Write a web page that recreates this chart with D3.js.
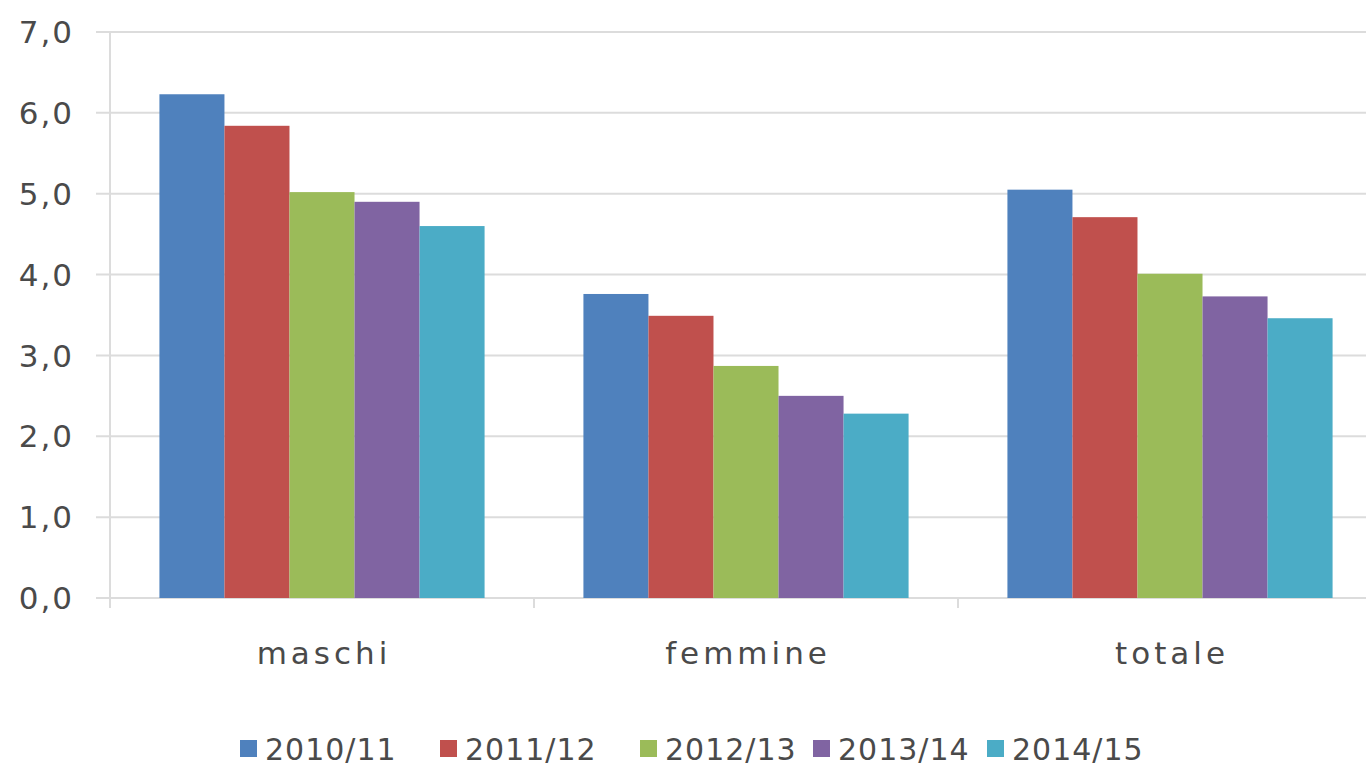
<!DOCTYPE html>
<html>
<head>
<meta charset="utf-8">
<script src="https://cdn.jsdelivr.net/npm/d3@7"></script>
<style>
  body { margin: 0; background: #fff; }
  text { font-family: "Century Gothic", "DejaVu Sans", sans-serif; fill: #4a4a4a; }
</style>
</head>
<body>
<div class="chart"></div>
<script>
const categories = ['maschi', 'femmine', 'totale'];
const seriesNames = ['2010/11', '2011/12', '2012/13', '2013/14', '2014/15'];
const s2010 = [6.23, 3.76, 5.05];
const s2011 = [5.84, 3.49, 4.71];
const s2012 = [5.02, 2.87, 4.01];
const s2013 = [4.90, 2.50, 3.73];
const s2014 = [4.60, 2.28, 3.46];
const yTicks = [0, 1, 2, 3, 4, 5, 6, 7];
const colors = ['#4f81bd', '#c0504d', '#9bbb59', '#8064a2', '#4bacc6'];

const series = [s2010, s2011, s2012, s2013, s2014];
const data = categories.map((c, i) => ({
  cat: c,
  values: seriesNames.map((s, j) => ({ s: s, v: series[j][i] }))
}));

const width = 1366, height = 768;
const x0 = 110, x1 = 1382, yTop = 32, yBot = 598;

const svg = d3.select('.chart')
  .append('svg')
  .attr('width', width)
  .attr('height', height);

const xScale = d3.scaleBand()
  .domain(categories)
  .range([x0, x1]);

const xInner = d3.scaleBand()
  .domain(seriesNames)
  .range([0, xScale.bandwidth()])
  .paddingOuter(0.76);

const yScale = d3.scaleLinear()
  .domain([0, 7])
  .range([yBot, yTop]);

// gridlines
svg.append('g')
  .selectAll('line')
  .data(yTicks)
  .enter()
  .append('line')
  .attr('x1', 96)
  .attr('x2', width)
  .attr('y1', d => yScale(d))
  .attr('y2', d => yScale(d))
  .attr('stroke', '#dcdcdc')
  .attr('stroke-width', 2);

// y axis line
svg.append('line')
  .attr('x1', x0).attr('x2', x0)
  .attr('y1', yTop).attr('y2', yBot + 10)
  .attr('stroke', '#dcdcdc')
  .attr('stroke-width', 2);

// category ticks
svg.append('g')
  .selectAll('line')
  .data(categories.slice(1))
  .enter()
  .append('line')
  .attr('x1', d => xScale(d))
  .attr('x2', d => xScale(d))
  .attr('y1', yBot)
  .attr('y2', yBot + 10)
  .attr('stroke', '#dcdcdc')
  .attr('stroke-width', 2);

// y labels
svg.append('g')
  .selectAll('text')
  .data(yTicks)
  .enter()
  .append('text')
  .attr('x', 74)
  .attr('y', d => yScale(d))
  .attr('dy', '0.36em')
  .attr('text-anchor', 'end')
  .attr('font-size', 31)
  .attr('letter-spacing', 2)
  .text(d => d.toFixed(1).replace('.', ','));

// bars
const groups = svg.selectAll('.grp')
  .data(data)
  .enter()
  .append('g')
  .attr('transform', d => `translate(${xScale(d.cat)},0)`);

groups.selectAll('rect')
  .data(d => d.values)
  .enter()
  .append('rect')
  .attr('x', d => xInner(d.s))
  .attr('width', xInner.bandwidth())
  .attr('y', d => yScale(d.v))
  .attr('height', d => yBot - yScale(d.v))
  .attr('fill', (d, i) => colors[i]);

// category labels
svg.append('g')
  .selectAll('text')
  .data(categories)
  .enter()
  .append('text')
  .attr('x', d => xScale(d) + xScale.bandwidth() / 2 + 2)
  .attr('y', 664)
  .attr('text-anchor', 'middle')
  .attr('font-size', 31)
  .attr('letter-spacing', 4)
  .text(d => d);

// legend
const legendX = [240, 440, 640, 813, 987];
const legend = svg.append('g')
  .selectAll('g')
  .data(seriesNames)
  .enter()
  .append('g')
  .attr('transform', (d, i) => `translate(${legendX[i]},740)`);

legend.append('rect')
  .attr('width', 17)
  .attr('height', 17)
  .attr('fill', (d, i) => colors[i]);

legend.append('text')
  .attr('x', 25)
  .attr('y', 9)
  .attr('dy', '0.36em')
  .attr('font-size', 30)
  .attr('letter-spacing', 1)
  .text(d => d);
</script>
</body>
</html>
